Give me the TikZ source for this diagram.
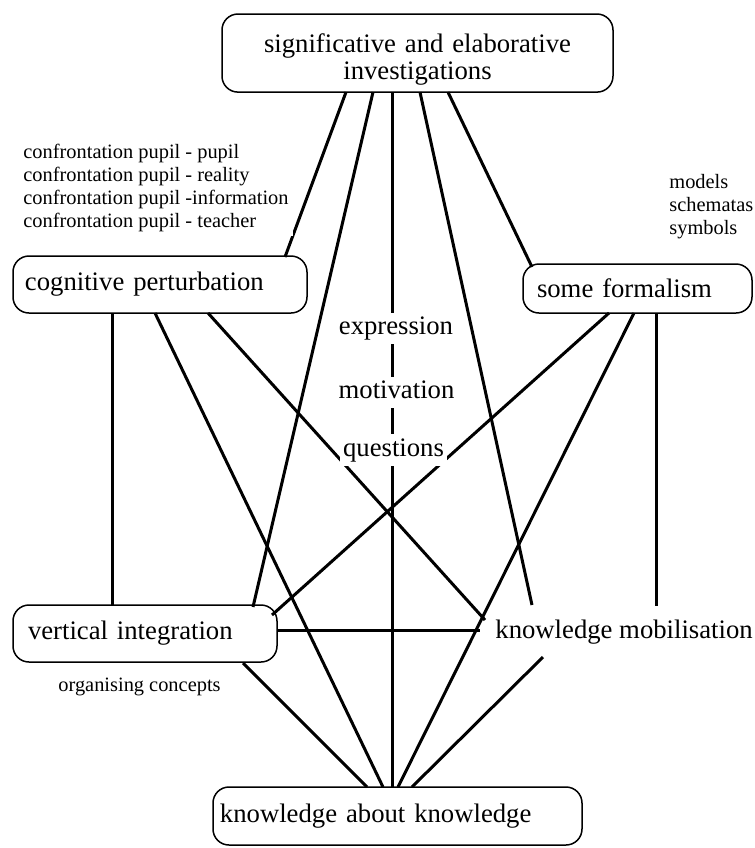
\documentclass[tikz,border=0pt]{standalone}
\usepackage{fontspec}
\setmainfont{Liberation Serif}
\usepackage{tikz}
\usetikzlibrary{calc}

\newcommand\bigtxt{\fontsize{13.35pt}{13.5pt}\selectfont}
\newcommand\smalltxt{\fontsize{10.2pt}{11.4pt}\selectfont}

\begin{document}
\begin{tikzpicture}[
      x=0.5pt, y=-0.5pt,
      font=\bigtxt,
      box/.style={draw, rectangle, rounded corners=8pt, line width=0.75pt,
          anchor=north west, outer sep=0pt, align=left, fill=white},
      note/.style={font=\smalltxt, align=left, inner sep=2pt, fill=white},
      mid/.style={fill=white, inner sep=1.5pt, anchor=base,
          text height=9.35pt, text depth=3.35pt},
      link/.style={line width=1.5pt},
    ]
    \useasboundingbox (0,0) rectangle (755,848);

    \node[box, align=center, text width=187.5pt, inner xsep=4pt, minimum height=35.5pt] (top) at (222,14)
        {\rule{0pt}{16pt}significative and elaborative\\investigations};
    \node[box, text width=135pt, inner xsep=6pt, minimum height=28.5pt] (cp) at (13,256) {cognitive perturbation};
    \node[box, text width=100.5pt, inner xsep=7pt, minimum height=24.5pt] (sf) at (523,264) {some formalism};
    \node[box, text width=117pt, inner xsep=7.5pt, minimum height=28.5pt] (vi) at (13,605) {vertical integration};
    \node[anchor=base west, inner sep=0pt] (km) at (495,638) {knowledge mobilisation};
    \node[box, text width=177.5pt, inner xsep=3.5pt, minimum height=29pt] (kak) at (213,787) {knowledge about knowledge};

    \draw[link] ($(top.south west)+(124,0)$) -- ($(cp.north east)+(-22,1)$);
    \draw[link] ($(top.south west)+(151,0)$) -- ($(vi.north east)+(-24,2)$);
    \draw[link] ($(top.south west)+(170,0)$) -- ($(kak.north west)+(179,0)$);
    \draw[link] ($(top.south west)+(198,0)$) -- ($(km.base west)+(37,-33)$);
    \draw[link] ($(top.south west)+(226,0)$) -- ($(sf.north west)+(9,3)$);

    \draw[link] ($(cp.south west)+(99,0)$) -- ($(vi.north west)+(99,0)$);
    \draw[link] ($(cp.south west)+(142,0)$) -- ($(kak.north west)+(170,0)$);
    \draw[link] ($(cp.south west)+(195,0)$) -- ($(km.base west)+(-10,-18)$);

    \draw[link] ($(sf.south west)+(86,0)$) -- ($(vi.north east)+(-5,10)$);
    \draw[link] ($(sf.south west)+(111,0)$) -- ($(kak.north west)+(185,0)$);
    \draw[link] ($(sf.south west)+(133,0)$) -- ($(km.base west)+(161,-32)$);

    \draw[link] ($(vi.north east)+(0,25)$) -- ($(km.base west)+(-15,-8)$);
    \draw[link] ($(vi.south east)+(-34,1)$) -- ($(kak.north west)+(154,0)$);
    \draw[link] ($(km.base west)+(48,19)$) -- ($(kak.north west)+(199,0)$);

    \node[note, anchor=north west] (confr) at (19,140) {confrontation pupil - pupil\\confrontation pupil - reality\\
        confrontation pupil -information\\confrontation pupil - teacher};
    \node[note, anchor=north west] (forms) at (665,170) {models\\schematas\\symbols};
    \node[note, anchor=base west, fill=none] (orgc) at (54,691) {organising concepts};

    \node[mid] (expr) at (396,334.5) {expression};
    \node[mid] (motiv) at (396.5,398.7) {motivation};
    \node[mid] (quest) at (393.5,456) {questions};

  \end{tikzpicture}
\end{document}
